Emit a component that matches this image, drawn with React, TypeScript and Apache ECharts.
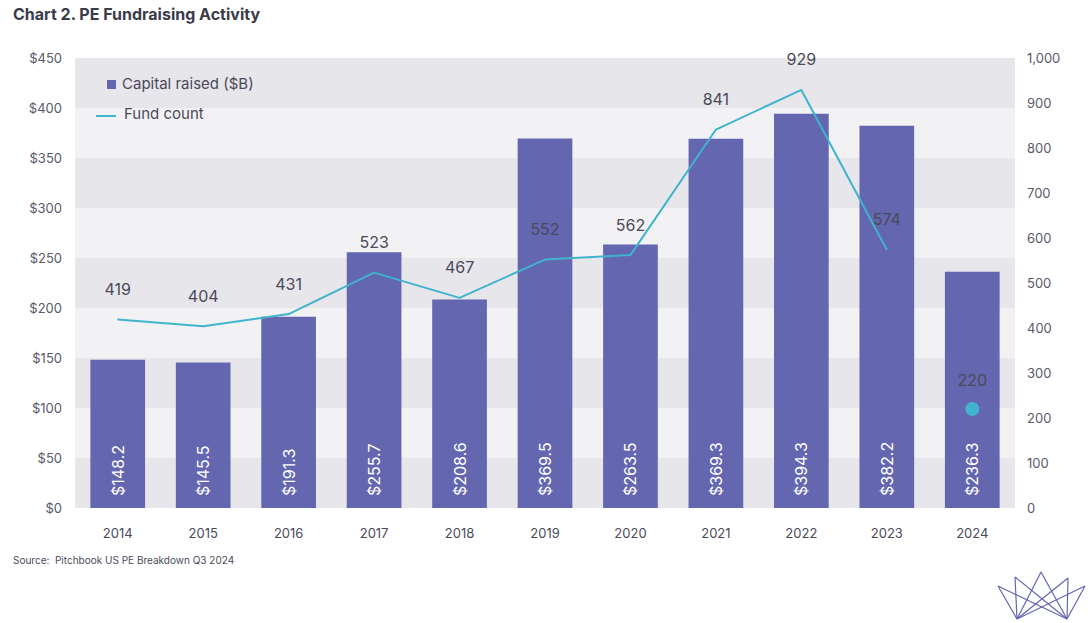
import { useEffect, useRef } from "react";
import * as echarts from "echarts";

const years = ["2014", "2015", "2016", "2017", "2018", "2019", "2020", "2021", "2022", "2023", "2024"];
const capital = [148.2, 145.5, 191.3, 255.7, 208.6, 369.5, 263.5, 369.3, 394.3, 382.2, 236.3];
const fundCount = [419, 404, 431, 523, 467, 552, 562, 841, 929, 574, null];
const fundCount2024 = [null, null, null, null, null, null, null, null, null, null, 220];

const font = "Inter, 'Noto Sans', sans-serif";

function App() {
  const chartRef = useRef(null);

  useEffect(() => {
    const chart = echarts.init(chartRef.current, null, { renderer: "svg" });

    const fan = [
      [998, 586], [1015, 577], [1041, 572], [1068, 578], [1085, 586],
    ];
    const logo: any[] = [];
    fan.forEach((p) => {
      logo.push({ type: "line", shape: { x1: 1017, y1: 619, x2: p[0], y2: p[1] }, style: { stroke: "#6466b0", lineWidth: 1.2 } });
      logo.push({ type: "line", shape: { x1: 1067, y1: 619, x2: p[0], y2: p[1] }, style: { stroke: "#6466b0", lineWidth: 1.2 } });
    });

    const option = {
      animation: false,
      textStyle: { fontFamily: font },
      grid: { left: 75, right: 76, top: 58, bottom: 115 },
      graphic: [
        { type: "text", left: 13, top: 6, style: { text: "Chart 2. PE Fundraising Activity", font: `bold 16px ${font}`, fill: "#3b3b4a" } },
        { type: "text", left: 13, top: 555, style: { text: "Source:  Pitchbook US PE Breakdown Q3 2024", font: `10px ${font}`, fill: "#4a4a5a" } },
        {
          type: "group",
          z: 100,
          children: [
            { type: "rect", z: 100, shape: { x: 107, y: 80, width: 9, height: 9 }, style: { fill: "#6466b0" } },
            { type: "text", z: 100, x: 122, y: 76, style: { text: "Capital raised ($B)", font: `15px ${font}`, fill: "#4a4a5a" } },
            { type: "line", z: 100, shape: { x1: 96, y1: 116, x2: 116, y2: 116 }, style: { stroke: "#3fb4cc", lineWidth: 2 } },
            { type: "text", z: 100, x: 124, y: 106, style: { text: "Fund count", font: `15px ${font}`, fill: "#4a4a5a" } },
          ],
        },
        ...logo,
      ],
      xAxis: {
        type: "category",
        data: years,
        axisLine: { show: false },
        axisTick: { show: false },
        axisLabel: { color: "#4a4a5a", fontSize: 13, margin: 18 },
      },
      yAxis: [
        {
          type: "value",
          min: 0,
          max: 450,
          interval: 50,
          axisLabel: { formatter: "${value}", color: "#5a5a6a", fontSize: 13, margin: 13 },
          splitLine: { show: false },
          splitArea: { show: true, areaStyle: { color: ["#e7e6eb", "#f2f2f5"] } },
        },
        {
          type: "value",
          min: 0,
          max: 1000,
          interval: 100,
          axisLabel: {
            color: "#5a5a6a",
            fontSize: 13,
            margin: 12,
            formatter: (v: number) => v.toLocaleString("en-US"),
          },
          splitLine: { show: false },
        },
      ],
      series: [
        {
          name: "Capital raised ($B)",
          type: "bar",
          data: capital,
          barWidth: "64%",
          itemStyle: { color: "#6466b0" },
          label: {
            show: true,
            position: "insideBottom",
            rotate: 90,
            align: "left",
            verticalAlign: "middle",
            distance: 12,
            color: "#ffffff",
            fontSize: 16,
            formatter: (p: any) => "$" + p.value.toFixed(1),
          },
        },
        {
          name: "Fund count",
          type: "line",
          yAxisIndex: 1,
          z: 5,
          data: fundCount,
          symbol: "circle",
          symbolSize: 1,
          showSymbol: true,
          showAllSymbol: true,
          itemStyle: { color: "#3fb4cc" },
          lineStyle: { color: "#3fb4cc", width: 2 },
          label: { show: true, position: "top", distance: 22, color: "#4a4a5a", fontSize: 16 },
        },
        {
          name: "Fund count 2024",
          type: "line",
          yAxisIndex: 1,
          z: 5,
          data: fundCount2024,
          symbol: "circle",
          symbolSize: 14,
          showAllSymbol: true,
          itemStyle: { color: "#3fb4cc" },
          label: { show: true, position: "top", distance: 14, color: "#4a4a5a", fontSize: 16 },
        },
      ],
    };

    chart.setOption(option);
    return () => chart.dispose();
  }, []);

  return <div ref={chartRef} style={{ position: "absolute", left: 0, top: 0, width: 1091, height: 623 }} />;
}

export default App;
